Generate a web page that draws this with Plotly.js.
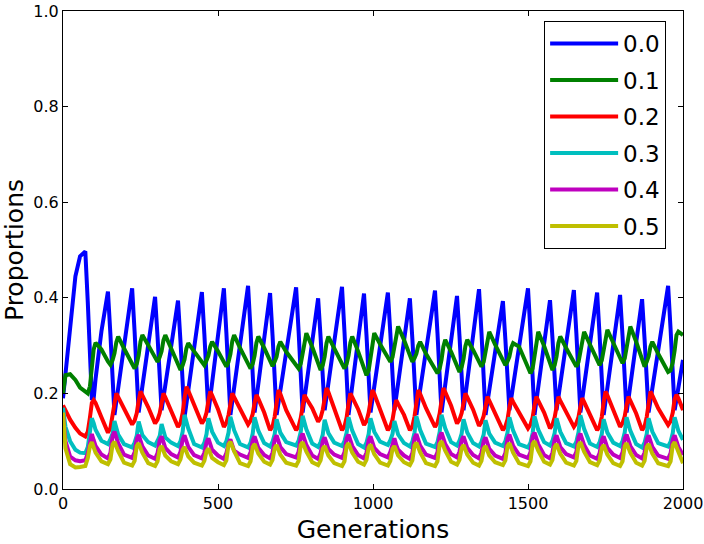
<!DOCTYPE html>
<html>
<head>
<meta charset="utf-8">
<script src="https://cdn.plot.ly/plotly-3.0.1.min.js"></script>
<style>
  html, body { margin: 0; padding: 0; background: #fff; }
  #chart { width: 704px; height: 544px; }
</style>
</head>
<body>
<div id="chart"></div>
<script>
// Proportions of each type over generations.
// One row per oscillation cycle (blue peak, then the points that follow it).

const generations = [
  0, 8, 23, 40, 55,
  72, 80, 87, 93, 99, 105, 124,
  145, 153, 160, 166, 172, 178, 197,
  223, 231, 238, 244, 250, 256, 275,
  297, 305, 312, 318, 324, 330, 349,
  371, 379, 386, 392, 398, 404, 423,
  448, 456, 463, 469, 475, 481, 500,
  519, 527, 534, 540, 546, 552, 571,
  597, 605, 612, 618, 624, 630, 649,
  668, 676, 683, 689, 695, 701, 720,
  752, 760, 767, 773, 779, 785, 804,
  823, 831, 838, 844, 850, 856, 875,
  900, 908, 915, 921, 927, 933, 952,
  971, 979, 986, 992, 998, 1004, 1023,
  1048, 1056, 1063, 1069, 1075, 1081, 1100,
  1119, 1127, 1134, 1140, 1146, 1152, 1171,
  1200, 1208, 1215, 1221, 1227, 1233, 1252,
  1271, 1279, 1286, 1292, 1298, 1304, 1323,
  1342, 1350, 1357, 1363, 1369, 1375, 1394,
  1419, 1427, 1434, 1440, 1446, 1452, 1471,
  1500, 1508, 1515, 1521, 1527, 1533, 1552,
  1571, 1579, 1586, 1592, 1598, 1604, 1623,
  1648, 1656, 1663, 1669, 1675, 1681, 1700,
  1723, 1731, 1738, 1744, 1750, 1756, 1775,
  1797, 1805, 1812, 1818, 1824, 1830, 1849,
  1868, 1876, 1883, 1889, 1895, 1901, 1920,
  1952, 1960, 1967, 1973, 1979, 1985, 2000
];

const seriesNames = ['0.0', '0.1', '0.2', '0.3', '0.4', '0.5'];

const prop00 = [
  0.19, 0.24, 0.35, 0.445, 0.487,
  0.497, 0.39, 0.29, 0.19, 0.19, 0.23, 0.33,
  0.413, 0.323, 0.227, 0.155, 0.183, 0.211, 0.299,
  0.42, 0.329, 0.233, 0.16, 0.187, 0.215, 0.302,
  0.402, 0.319, 0.231, 0.165, 0.191, 0.217, 0.299,
  0.394, 0.309, 0.218, 0.15, 0.178, 0.206, 0.295,
  0.412, 0.324, 0.231, 0.16, 0.191, 0.222, 0.321,
  0.42, 0.327, 0.229, 0.155, 0.183, 0.212, 0.302,
  0.425, 0.332, 0.234, 0.16, 0.19, 0.22, 0.315,
  0.41, 0.321, 0.226, 0.155, 0.18, 0.206, 0.286,
  0.422, 0.33, 0.233, 0.16, 0.189, 0.217, 0.308,
  0.399, 0.317, 0.231, 0.165, 0.193, 0.22, 0.308,
  0.423, 0.329, 0.23, 0.155, 0.185, 0.216, 0.312,
  0.409, 0.322, 0.23, 0.16, 0.187, 0.214, 0.299,
  0.411, 0.325, 0.234, 0.165, 0.193, 0.221, 0.31,
  0.399, 0.314, 0.223, 0.155, 0.181, 0.207, 0.289,
  0.415, 0.326, 0.231, 0.16, 0.189, 0.218, 0.311,
  0.404, 0.32, 0.232, 0.165, 0.195, 0.226, 0.322,
  0.418, 0.326, 0.229, 0.155, 0.181, 0.206, 0.287,
  0.393, 0.313, 0.229, 0.165, 0.19, 0.216, 0.297,
  0.42, 0.327, 0.229, 0.155, 0.184, 0.213, 0.304,
  0.395, 0.315, 0.229, 0.165, 0.192, 0.219, 0.304,
  0.416, 0.326, 0.232, 0.16, 0.188, 0.216, 0.304,
  0.411, 0.321, 0.227, 0.155, 0.183, 0.212, 0.302,
  0.406, 0.32, 0.229, 0.16, 0.188, 0.217, 0.307,
  0.397, 0.314, 0.226, 0.16, 0.185, 0.21, 0.29,
  0.425, 0.334, 0.238, 0.165, 0.188, 0.212, 0.27
];

const prop01 = [
  0.2, 0.238, 0.24, 0.228, 0.212,
  0.204, 0.2, 0.215, 0.262, 0.292, 0.306, 0.292,
  0.267, 0.26, 0.27, 0.284, 0.307, 0.319, 0.294,
  0.263, 0.252, 0.262, 0.28, 0.308, 0.322, 0.301,
  0.275, 0.266, 0.276, 0.288, 0.311, 0.322, 0.294,
  0.261, 0.249, 0.259, 0.271, 0.294, 0.305, 0.288,
  0.266, 0.259, 0.269, 0.279, 0.298, 0.308, 0.288,
  0.264, 0.256, 0.266, 0.282, 0.309, 0.322, 0.295,
  0.263, 0.252, 0.262, 0.279, 0.306, 0.319, 0.295,
  0.267, 0.257, 0.267, 0.277, 0.298, 0.308, 0.287,
  0.261, 0.252, 0.262, 0.282, 0.311, 0.326, 0.297,
  0.261, 0.249, 0.259, 0.277, 0.305, 0.319, 0.294,
  0.263, 0.252, 0.262, 0.279, 0.306, 0.319, 0.288,
  0.251, 0.238, 0.248, 0.273, 0.308, 0.326, 0.303,
  0.276, 0.266, 0.276, 0.296, 0.325, 0.34, 0.312,
  0.278, 0.266, 0.274, 0.283, 0.3, 0.308, 0.283,
  0.253, 0.242, 0.252, 0.27, 0.298, 0.312, 0.287,
  0.256, 0.245, 0.255, 0.272, 0.299, 0.312, 0.291,
  0.265, 0.256, 0.266, 0.285, 0.314, 0.329, 0.302,
  0.27, 0.259, 0.267, 0.277, 0.296, 0.305, 0.298,
  0.252, 0.242, 0.252, 0.277, 0.312, 0.329, 0.299,
  0.262, 0.249, 0.259, 0.277, 0.305, 0.319, 0.295,
  0.266, 0.256, 0.266, 0.285, 0.314, 0.329, 0.302,
  0.27, 0.259, 0.269, 0.289, 0.318, 0.333, 0.306,
  0.274, 0.263, 0.273, 0.294, 0.325, 0.34, 0.308,
  0.269, 0.256, 0.266, 0.277, 0.298, 0.308, 0.283,
  0.245, 0.248, 0.265, 0.29, 0.322, 0.329, 0.322
];

const prop02 = [
  0.175, 0.163, 0.145, 0.128, 0.116,
  0.11, 0.12, 0.15, 0.18, 0.186, 0.18, 0.15,
  0.118, 0.128, 0.15, 0.178, 0.2, 0.192, 0.168,
  0.135, 0.143, 0.159, 0.185, 0.204, 0.196, 0.171,
  0.137, 0.145, 0.159, 0.182, 0.2, 0.192, 0.165,
  0.13, 0.138, 0.159, 0.19, 0.214, 0.206, 0.176,
  0.137, 0.145, 0.16, 0.185, 0.204, 0.196, 0.167,
  0.13, 0.138, 0.155, 0.18, 0.2, 0.192, 0.168,
  0.135, 0.143, 0.157, 0.18, 0.197, 0.189, 0.16,
  0.123, 0.131, 0.152, 0.183, 0.207, 0.199, 0.165,
  0.123, 0.131, 0.149, 0.176, 0.197, 0.189, 0.169,
  0.141, 0.149, 0.166, 0.191, 0.211, 0.203, 0.167,
  0.123, 0.131, 0.15, 0.178, 0.2, 0.192, 0.167,
  0.134, 0.142, 0.16, 0.187, 0.207, 0.199, 0.165,
  0.123, 0.131, 0.145, 0.168, 0.186, 0.178, 0.155,
  0.123, 0.131, 0.152, 0.183, 0.207, 0.199, 0.169,
  0.13, 0.138, 0.158, 0.188, 0.211, 0.203, 0.174,
  0.137, 0.145, 0.159, 0.182, 0.2, 0.192, 0.166,
  0.132, 0.14, 0.153, 0.176, 0.193, 0.185, 0.158,
  0.123, 0.131, 0.146, 0.171, 0.19, 0.182, 0.159,
  0.127, 0.135, 0.15, 0.175, 0.193, 0.185, 0.16,
  0.127, 0.135, 0.15, 0.175, 0.193, 0.185, 0.162,
  0.13, 0.138, 0.151, 0.173, 0.19, 0.182, 0.157,
  0.123, 0.131, 0.151, 0.181, 0.204, 0.196, 0.167,
  0.13, 0.138, 0.152, 0.175, 0.193, 0.185, 0.158,
  0.123, 0.131, 0.151, 0.181, 0.204, 0.196, 0.169,
  0.134, 0.142, 0.16, 0.188, 0.197, 0.19, 0.165
];

const prop03 = [
  0.17, 0.13, 0.1, 0.082, 0.076,
  0.075, 0.088, 0.12, 0.148, 0.138, 0.124, 0.101,
  0.094, 0.104, 0.116, 0.142, 0.127, 0.114, 0.094,
  0.087, 0.097, 0.112, 0.141, 0.126, 0.113, 0.098,
  0.091, 0.101, 0.111, 0.136, 0.121, 0.108, 0.097,
  0.09, 0.1, 0.12, 0.155, 0.14, 0.127, 0.094,
  0.087, 0.097, 0.115, 0.148, 0.133, 0.12, 0.097,
  0.09, 0.1, 0.118, 0.151, 0.136, 0.123, 0.094,
  0.087, 0.097, 0.116, 0.15, 0.135, 0.122, 0.096,
  0.089, 0.099, 0.115, 0.146, 0.131, 0.118, 0.098,
  0.091, 0.101, 0.12, 0.153, 0.138, 0.125, 0.095,
  0.088, 0.098, 0.114, 0.145, 0.13, 0.117, 0.097,
  0.09, 0.1, 0.118, 0.15, 0.135, 0.122, 0.094,
  0.087, 0.097, 0.115, 0.148, 0.133, 0.12, 0.099,
  0.092, 0.102, 0.115, 0.142, 0.127, 0.114, 0.096,
  0.089, 0.099, 0.118, 0.152, 0.137, 0.124, 0.095,
  0.088, 0.098, 0.119, 0.155, 0.14, 0.127, 0.098,
  0.091, 0.101, 0.116, 0.146, 0.131, 0.118, 0.096,
  0.089, 0.099, 0.114, 0.144, 0.129, 0.116, 0.097,
  0.09, 0.1, 0.118, 0.15, 0.135, 0.122, 0.094,
  0.087, 0.097, 0.117, 0.152, 0.137, 0.124, 0.098,
  0.091, 0.101, 0.117, 0.148, 0.133, 0.12, 0.096,
  0.089, 0.099, 0.119, 0.154, 0.139, 0.126, 0.095,
  0.088, 0.098, 0.115, 0.146, 0.131, 0.118, 0.097,
  0.09, 0.1, 0.118, 0.15, 0.135, 0.122, 0.094,
  0.087, 0.097, 0.115, 0.148, 0.133, 0.12, 0.096,
  0.089, 0.099, 0.117, 0.15, 0.135, 0.122, 0.103
];

const prop04 = [
  0.155, 0.1, 0.068, 0.06, 0.058,
  0.06, 0.075, 0.1, 0.115, 0.102, 0.09, 0.072,
  0.064, 0.076, 0.112, 0.12, 0.106, 0.096, 0.072,
  0.065, 0.077, 0.105, 0.113, 0.099, 0.089, 0.07,
  0.063, 0.075, 0.102, 0.11, 0.096, 0.086, 0.073,
  0.066, 0.078, 0.104, 0.112, 0.098, 0.088, 0.071,
  0.064, 0.076, 0.098, 0.106, 0.092, 0.082, 0.07,
  0.063, 0.075, 0.096, 0.104, 0.09, 0.08, 0.072,
  0.065, 0.077, 0.102, 0.11, 0.096, 0.086, 0.071,
  0.064, 0.076, 0.104, 0.112, 0.098, 0.088, 0.073,
  0.066, 0.078, 0.108, 0.116, 0.102, 0.092, 0.07,
  0.063, 0.075, 0.1, 0.108, 0.094, 0.084, 0.072,
  0.065, 0.077, 0.106, 0.114, 0.1, 0.09, 0.071,
  0.064, 0.076, 0.102, 0.11, 0.096, 0.086, 0.073,
  0.066, 0.078, 0.098, 0.106, 0.092, 0.082, 0.07,
  0.063, 0.075, 0.107, 0.115, 0.101, 0.091, 0.072,
  0.065, 0.077, 0.11, 0.118, 0.104, 0.094, 0.073,
  0.066, 0.078, 0.102, 0.11, 0.096, 0.086, 0.071,
  0.064, 0.076, 0.1, 0.108, 0.094, 0.084, 0.07,
  0.063, 0.075, 0.106, 0.114, 0.1, 0.09, 0.072,
  0.065, 0.077, 0.11, 0.118, 0.104, 0.094, 0.071,
  0.064, 0.076, 0.104, 0.112, 0.098, 0.088, 0.073,
  0.066, 0.078, 0.108, 0.116, 0.102, 0.092, 0.07,
  0.063, 0.075, 0.102, 0.11, 0.096, 0.086, 0.072,
  0.065, 0.077, 0.106, 0.114, 0.1, 0.09, 0.071,
  0.064, 0.076, 0.104, 0.112, 0.098, 0.088, 0.07,
  0.063, 0.075, 0.104, 0.112, 0.098, 0.088, 0.071
];

const prop05 = [
  0.16, 0.085, 0.052, 0.045, 0.046,
  0.048, 0.065, 0.09, 0.098, 0.087, 0.076, 0.058,
  0.052, 0.062, 0.093, 0.099, 0.087, 0.079, 0.055,
  0.049, 0.059, 0.09, 0.096, 0.084, 0.076, 0.054,
  0.048, 0.058, 0.084, 0.09, 0.078, 0.07, 0.058,
  0.052, 0.062, 0.082, 0.088, 0.076, 0.068, 0.055,
  0.049, 0.059, 0.079, 0.085, 0.073, 0.065, 0.056,
  0.05, 0.06, 0.093, 0.099, 0.087, 0.079, 0.054,
  0.048, 0.058, 0.088, 0.094, 0.082, 0.074, 0.057,
  0.051, 0.061, 0.086, 0.092, 0.08, 0.072, 0.055,
  0.049, 0.059, 0.092, 0.098, 0.086, 0.078, 0.056,
  0.05, 0.06, 0.084, 0.09, 0.078, 0.07, 0.054,
  0.048, 0.058, 0.09, 0.096, 0.084, 0.076, 0.057,
  0.051, 0.061, 0.087, 0.093, 0.081, 0.073, 0.055,
  0.049, 0.059, 0.084, 0.09, 0.078, 0.07, 0.056,
  0.05, 0.06, 0.091, 0.097, 0.085, 0.077, 0.054,
  0.048, 0.058, 0.094, 0.1, 0.088, 0.08, 0.057,
  0.051, 0.061, 0.086, 0.092, 0.08, 0.072, 0.055,
  0.049, 0.059, 0.084, 0.09, 0.078, 0.07, 0.056,
  0.05, 0.06, 0.09, 0.096, 0.084, 0.076, 0.054,
  0.048, 0.058, 0.094, 0.1, 0.088, 0.08, 0.057,
  0.051, 0.061, 0.088, 0.094, 0.082, 0.074, 0.055,
  0.049, 0.059, 0.092, 0.098, 0.086, 0.078, 0.056,
  0.05, 0.06, 0.086, 0.092, 0.08, 0.072, 0.054,
  0.048, 0.058, 0.09, 0.096, 0.084, 0.076, 0.055,
  0.049, 0.059, 0.088, 0.094, 0.082, 0.074, 0.054,
  0.048, 0.058, 0.092, 0.098, 0.086, 0.078, 0.054
];

const yTickVals = [0, 0.2, 0.4, 0.6, 0.8, 1.0];
const xTickVals = [0, 500, 1000, 1500, 2000];

// matplotlib "classic" colour cycle
const lineColors = ['#0000ff', '#008000', '#ff0000', '#00bfbf', '#bf00bf', '#bfbf00'];

function renderChart() {
  const allSeries = [prop00, prop01, prop02, prop03, prop04, prop05];
  const font = 'DejaVu Sans, Liberation Sans, sans-serif';

  const traces = allSeries.map((vals, i) => ({
    type: 'scatter', mode: 'lines',
    x: generations, y: vals,
    name: seriesNames[i],
    legendgroup: 'g' + i,
    line: { color: lineColors[i], width: 4 }
  }));

  const axisBase = {
    showline: true, linecolor: '#000', linewidth: 1, mirror: 'ticks',
    ticks: 'inside', ticklen: 5, tickwidth: 1, tickcolor: '#000',
    showgrid: false, zeroline: false,
    tickfont: { family: font, size: 16, color: '#000' }
  };

  const layout = {
    width: 704, height: 544,
    margin: { l: 63, r: 21, t: 11, b: 55 },
    paper_bgcolor: '#fff', plot_bgcolor: '#fff',
    font: { family: font, color: '#000' },
    xaxis: Object.assign({}, axisBase, {
      range: [0, 2000], tickvals: xTickVals,
      title: { text: 'Generations', font: { family: font, size: 25 }, standoff: 8 }
    }),
    yaxis: Object.assign({}, axisBase, {
      range: [0, 1], tickvals: yTickVals, tickformat: '.1f',
      title: { text: 'Proportions', font: { family: font, size: 25 }, standoff: 6 }
    }),
    showlegend: true,
    legend: {
      x: 0.776, y: 0.979, xanchor: 'left', yanchor: 'top',
      bgcolor: '#fff', bordercolor: '#000', borderwidth: 1,
      font: { family: font, size: 23, color: '#000' },
      itemwidth: 68,
      entrywidth: 137, entrywidthmode: 'pixels',
      traceorder: 'grouped', tracegroupgap: 3.6
    }
  };

  Plotly.newPlot('chart', traces, layout, { displayModeBar: false, staticPlot: true });
}

renderChart();
</script>
</body>
</html>
